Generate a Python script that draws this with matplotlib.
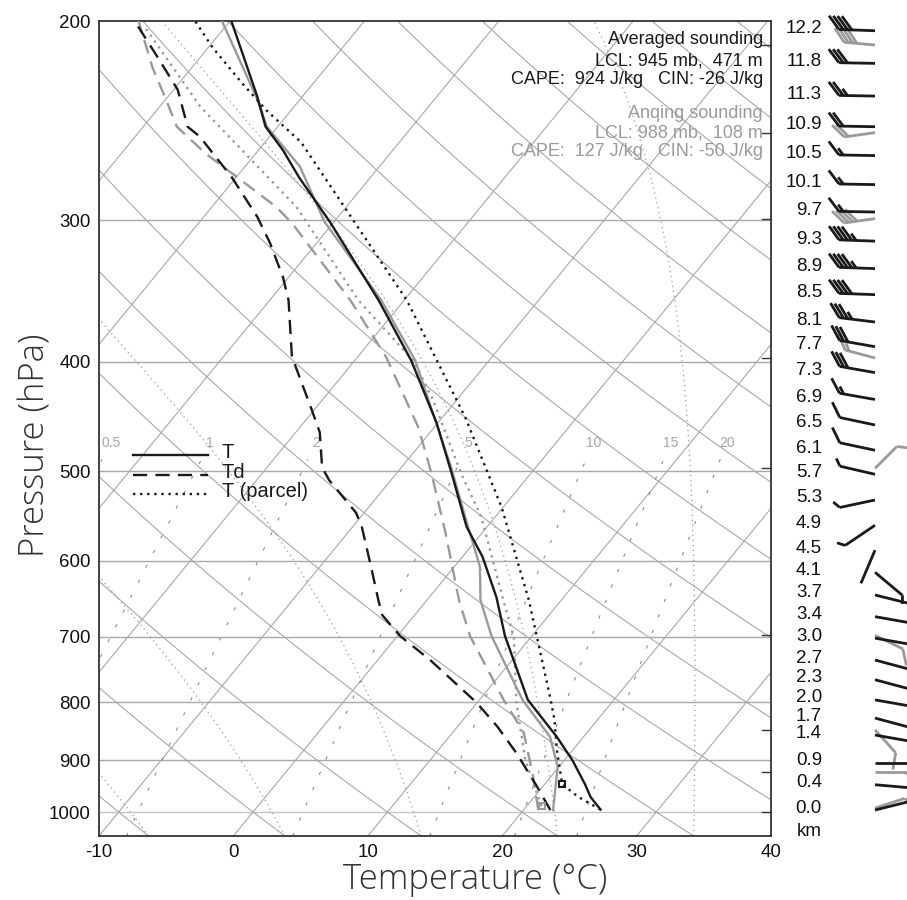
import numpy as np
import matplotlib
matplotlib.use("Agg")
import matplotlib.pyplot as plt
from matplotlib.ticker import NullLocator, FixedLocator, FixedFormatter
import matplotlib.transforms as mtransforms
from matplotlib.patches import Polygon

# ---------------- data ----------------
# Averaged sounding
avg_T_p = [995, 970, 945, 900, 858, 796, 699, 646, 595, 560, 502, 453, 399, 353, 301, 275, 260, 248, 233, 200]
avg_T = [25.7, 24.2, 23.0, 20.6, 18.0, 13.6, 8.0, 5.0, 1.5, -1.5, -5.9, -10.1, -15.8, -21.9, -30.3, -35.3, -38.2, -40.9, -43.4, -49.9]
avg_Td_p = [996, 950, 887, 841, 801, 734, 699, 670, 650, 607, 560, 544, 509, 496, 462, 441, 396, 353, 337, 314, 298, 275, 253, 248, 230, 216, 200]
avg_Td = [22.0, 19.6, 16.0, 13.0, 10.0, 3.9, 0.2, -2.4, -3.6, -6.2, -9.3, -10.6, -14.6, -15.9, -18.2, -20.2, -24.9, -28.6, -30.4, -33.5, -36.0, -40.3, -45.2, -46.7, -49.7, -53.0, -57.1]
avg_parcel_p = [995, 970, 945, 881, 829, 796, 650, 538, 448, 353, 256, 240, 227, 211, 200]
avg_parcel_T = [25.7, 23.3, 21.3, 18.8, 16.8, 15.3, 7.6, -0.1, -8.3, -19.8, -37.3, -41.8, -45.3, -49.7, -52.6]
avg_lcl = (945, 21.3)

# Anqing sounding
anq_T_p = [996, 912, 858, 796, 699, 650, 607, 549, 496, 462, 399, 353, 301, 269, 248, 235, 200]
anq_T = [22.2, 19.9, 17.5, 13.2, 7.0, 4.0, 1.9, -2.2, -6.3, -9.3, -15.5, -21.7, -30.7, -35.9, -40.8, -43.1, -50.6]
anq_Td_p = [996, 931, 851, 796, 699, 650, 567, 502, 457, 396, 353, 302, 292, 276, 262, 248, 235, 220, 200]
anq_Td = [21.1, 18.7, 15.3, 11.8, 5.4, 2.4, -2.7, -7.4, -11.2, -17.9, -24.0, -33.0, -35.2, -39.6, -43.7, -47.5, -49.9, -52.9, -56.8]
anq_parcel_p = [988, 900, 800, 700, 650, 549, 502, 432, 400, 353, 292, 238, 202]
anq_parcel_T = [21.1, 17.1, 12.9, 8.7, 5.7, -1.0, -5.2, -11.8, -15.5, -23.4, -33.7, -47.0, -56.1]
anq_lcl = (988, 21.1)

# winds (averaged sounding): height labels, pressure, direction, speed
wind_km = ['12.2', '11.8', '11.3', '10.9', '10.5', '10.1', '9.7', '9.3', '8.9', '8.5', '8.1', '7.7', '7.3', '6.9',
           '6.5', '6.1', '5.7', '5.3', '4.9', '4.5', '4.1', '3.7', '3.4', '3.0', '2.7', '2.3', '2.0', '1.7', '1.4',
           '0.9', '0.4', '0.0']
wind_p = [204, 218, 233, 248, 263, 279, 295, 313, 331, 349, 369, 388, 409, 432, 455, 479, 503, 530, 558, 587,
          614, 643, 672, 702, 734, 764, 796, 826, 855, 905, 946, 996]
wind_dir = [272, 271, 271, 271, 271, 271, 271, 272, 272, 272, 277, 280, 280, 280, 282, 282, 283, 258, 236, 203,
            130, 104, 100, 100, 105, 105, 100, 105, 100, 90, 95, 76]
wind_spd = [40, 30, 25, 20, 15, 15, 15, 45, 45, 40, 35, 30, 30, 15, 10, 10, 5, 5, 5, 0,
            5, 10, 10, 10, 10, 10, 10, 10, 10, 10, 10, 10]
# winds (Anqing)
anq_wind_p = [210, 251, 299, 397, 497, 698, 846, 922, 992]
anq_wind_dir = [275, 262, 262, 285, 45, 116, 138, 90, 72]
anq_wind_spd = [40, 20, 40, 15, 10, 10, 10, 10, 10]

p_ticks = [200, 300, 400, 500, 600, 700, 800, 900, 1000]
t_ticks = [-10, 0, 10, 20, 30, 40]
mix_ratios = [0.5, 1, 2, 5, 10, 15, 20]
mix_labels = ['0.5', '1', '2', '5', '10', '15', '20']
adiabat_thetas = list(range(-30, 160, 10))
moist_thetas = [-10, 0, 10, 20, 30]
anq_tick_p = [210, 251, 299, 397, 497, 698, 846, 922, 1000]

# ---------------- geometry ----------------
W, H = 907, 900
PBOT, PTOP = 1050.0, 200.0
SKEW = 30.0
BLACK = '#1a1a1a'
GRAY = '#9a9a9a'
GRID = '#a8a8a8'
FONT = 'Liberation Sans'


def sx(T, p):
    return np.asarray(T, dtype=float) + SKEW * np.log(PBOT / np.asarray(p, dtype=float))


fig = plt.figure(figsize=(W / 100, H / 100), dpi=100)
L, R, TOP, BOT = 99, 771, 21, 836
ax = fig.add_axes([L / W, 1 - BOT / H, (R - L) / W, (BOT - TOP) / H])
ax.set_yscale('log')
ax.set_ylim(PBOT, PTOP)
ax.set_xlim(-10, 40)

pp = np.exp(np.linspace(np.log(PBOT), np.log(PTOP), 300))

# isobars
for p in p_ticks[1:]:
    ax.axhline(p, color=GRID if p != 1000 else '#c4c4c4', lw=1.0, zorder=1)
# isotherms
for t in range(-120, 50, 10):
    ax.plot(sx(t, pp), pp, color=GRID, lw=0.8, zorder=1)
# dry adiabats
for th in adiabat_thetas:
    tt = (th + 273.15) * (pp / 1000.0) ** 0.2857 - 273.15
    ax.plot(sx(tt, pp), pp, color=GRID, lw=0.8, zorder=1)


# moist adiabats (start at bottom of diagram on the dry adiabat)
def es(Tk):
    return 6.112 * np.exp(17.67 * (Tk - 273.15) / (Tk - 29.65))


def dTdp(Tk, p):
    Rd, cp, Lv, eps = 287.04, 1005.7, 2.501e6, 0.622
    e = es(Tk)
    rs = eps * e / (p - e)
    return (Rd * Tk + Lv * rs) / (p * (cp + Lv * Lv * rs * eps / (Rd * Tk * Tk)))


def moist(th):
    Tk = (th + 273.15) * (PBOT / 1000.0) ** 0.2857
    p = PBOT
    h = -1.0
    ps, Ts = [p], [Tk]
    while p > PTOP:
        k1 = dTdp(Tk, p)
        k2 = dTdp(Tk + 0.5 * h * k1, p + 0.5 * h)
        k3 = dTdp(Tk + 0.5 * h * k2, p + 0.5 * h)
        k4 = dTdp(Tk + h * k3, p + h)
        Tk += h * (k1 + 2 * k2 + 2 * k3 + k4) / 6
        p += h
        ps.append(p)
        Ts.append(Tk)
    return np.array(ps), np.array(Ts) - 273.15


for th in moist_thetas:
    mp, mT = moist(th)
    ax.plot(sx(mT, mp), mp, color='#9a9a9a', lw=0.9, ls=(0, (1, 3)), zorder=1)

# mixing ratio lines
PLAB = 472
pm = np.exp(np.linspace(np.log(PBOT), np.log(488), 100))


def w_to_td(w, p):
    e = w * p / (622.0 + w)
    lnr = np.log(e / 6.112)
    return 243.5 * lnr / (17.67 - lnr)


for w, lab in zip(mix_ratios, mix_labels):
    ax.plot(sx(w_to_td(w, pm), pm), pm, color='#8c8c8c', lw=0.8, ls=(0, (3, 12)), zorder=1)
    ax.text(sx(w_to_td(w, PLAB), PLAB), PLAB, lab, color='#a6a6a6', fontsize=10, ha='center', va='center',
            family=FONT, zorder=2)

# profiles
lw = 1.7
dash = (0, (6, 3.5))
dot = (0, (1, 2.0))
ax.plot(sx(anq_T, anq_T_p), anq_T_p, color=GRAY, lw=lw, zorder=3)
ax.plot(sx(anq_Td, anq_Td_p), anq_Td_p, color=GRAY, lw=lw, ls=dash, zorder=3)
ax.plot(sx(anq_parcel_T, anq_parcel_p), anq_parcel_p, color=GRAY, lw=lw, ls=dot, zorder=3)
ax.plot(sx(avg_T, avg_T_p), avg_T_p, color=BLACK, lw=lw, zorder=4)
ax.plot(sx(avg_Td, avg_Td_p), avg_Td_p, color=BLACK, lw=lw, ls=dash, zorder=4)
ax.plot(sx(avg_parcel_T, avg_parcel_p), avg_parcel_p, color=BLACK, lw=lw, ls=dot, zorder=4)
ax.plot(sx(anq_lcl[1], anq_lcl[0]), anq_lcl[0], marker='s', ms=5, mfc='none', mec=GRAY, mew=1.5, zorder=5)
ax.plot(sx(avg_lcl[1], avg_lcl[0]), avg_lcl[0], marker='s', ms=5, mfc='none', mec=BLACK, mew=1.5, zorder=5)

# axes styling
for s in ax.spines.values():
    s.set_color('#333333')
    s.set_linewidth(1.3)
ax.yaxis.set_major_locator(FixedLocator(p_ticks))
ax.yaxis.set_major_formatter(FixedFormatter([str(p) for p in p_ticks]))
ax.yaxis.set_minor_locator(NullLocator())
ax.set_xticks(t_ticks)
ax.set_xticklabels([str(t) for t in t_ticks])
ax.tick_params(length=0, labelsize=13.5, pad=6, labelcolor='#111111')
for lab in ax.get_xticklabels() + ax.get_yticklabels():
    lab.set_family(FONT)

# right spine ticks for Anqing levels
tr = mtransforms.blended_transform_factory(ax.transAxes, ax.transData)
for p in anq_tick_p:
    ax.plot([0.9866, 1.0], [p, p], color='#333333', lw=1.0, transform=tr, clip_on=False, zorder=6)

# axis titles
fig.text(35 / W, 1 - 445 / H, 'Pressure (hPa)', rotation=90, ha='center', va='center',
         fontsize=25, family='Open Sans', fontweight='light', color='#333333')
fig.text(475 / W, 1 - 880 / H, 'Temperature (°C)', ha='center', va='center',
         fontsize=25, family='Open Sans', fontweight='light', color='#333333')

# annotations
info = [("Averaged sounding", 40, BLACK), ("LCL: 945 mb,  471 m", 61, BLACK),
        ("CAPE:  924 J/kg   CIN: -26 J/kg", 80, BLACK),
        ("Anqing sounding", 113, GRAY), ("LCL: 988 mb,  108 m", 133, GRAY),
        ("CAPE:  127 J/kg   CIN: -50 J/kg", 152, GRAY)]
for txt, yy, c in info:
    fig.text(763 / W, 1 - yy / H, txt, ha='right', va='center', fontsize=13, family=FONT, color=c)

# legend
leg = [('T', 455, '-'), ('Td', 475, dash), ('T (parcel)', 494, dot)]
for txt, yy, style in leg:
    fig.add_artist(plt.Line2D([133 / W, 208 / W], [1 - yy / H, 1 - yy / H], color=BLACK, lw=lw, ls=style))
    fig.text(222 / W, 1 - (yy - 2) / H, txt, ha='left', va='center', fontsize=14.5, family=FONT, color=BLACK)

# ---------------- wind barbs (pixel overlay, y from the pressure axis) ----------------
axp = fig.add_axes([0, 0, 1, 1], zorder=5)
axp.set_xlim(0, W)
axp.set_ylim(H, 0)
axp.axis('off')
axp.patch.set_alpha(0)


def p_to_pix(p):
    return H - ax.transData.transform((0.0, p))[1]


FEATHER, SPACING, ANG, BLW = 17.0, 4.3, np.deg2rad(38), 2.0


def draw_barb(x0, p, wdir, spd, color, staff):
    y0 = p_to_pix(p)
    b = np.deg2rad(wdir)
    d = np.array([np.sin(b), -np.cos(b)])
    n = np.array([-d[1], d[0]])
    base = np.array([x0, y0])
    tip = base + staff * d
    axp.plot([base[0], tip[0]], [base[1], tip[1]], color=color, lw=BLW, solid_capstyle='butt')
    f = FEATHER * (n * np.cos(ANG) + d * np.sin(ANG))
    s = int(round(spd / 5.0)) * 5
    nflag, rem = divmod(s, 50)
    nfull, rem = divmod(rem, 10)
    nhalf = rem // 5
    pos = tip.copy()
    for _ in range(nflag):
        tri = np.array([pos, pos + f, pos - 6 * d])
        axp.add_patch(Polygon(tri, closed=True, fc=color, ec=color, lw=0.8))
        pos = pos - (6 + SPACING) * d
    for _ in range(nfull):
        axp.plot([pos[0], pos[0] + f[0]], [pos[1], pos[1] + f[1]], color=color, lw=BLW, solid_capstyle='butt')
        pos = pos - SPACING * d
    for _ in range(nhalf):
        axp.plot([pos[0], pos[0] + 0.5 * f[0]], [pos[1], pos[1] + 0.5 * f[1]], color=color, lw=BLW,
                 solid_capstyle='butt')


BX = 875.0
for p, dd, s in zip(anq_wind_p, anq_wind_dir, anq_wind_spd):
    draw_barb(BX, p, dd, s, GRAY, 31.0)
for p, dd, s in zip(wind_p, wind_dir, wind_spd):
    draw_barb(BX, p, dd, s, BLACK, 36.0)
for k, p in zip(wind_km, wind_p):
    axp.text(822, p_to_pix(p) - 2, k, ha='right', va='center', fontsize=13.5, family=FONT, color='#111111')
axp.text(822, 832, 'km', ha='right', va='center', fontsize=13.5, family=FONT, color='#111111')

fig.savefig('out.png', dpi=100)
